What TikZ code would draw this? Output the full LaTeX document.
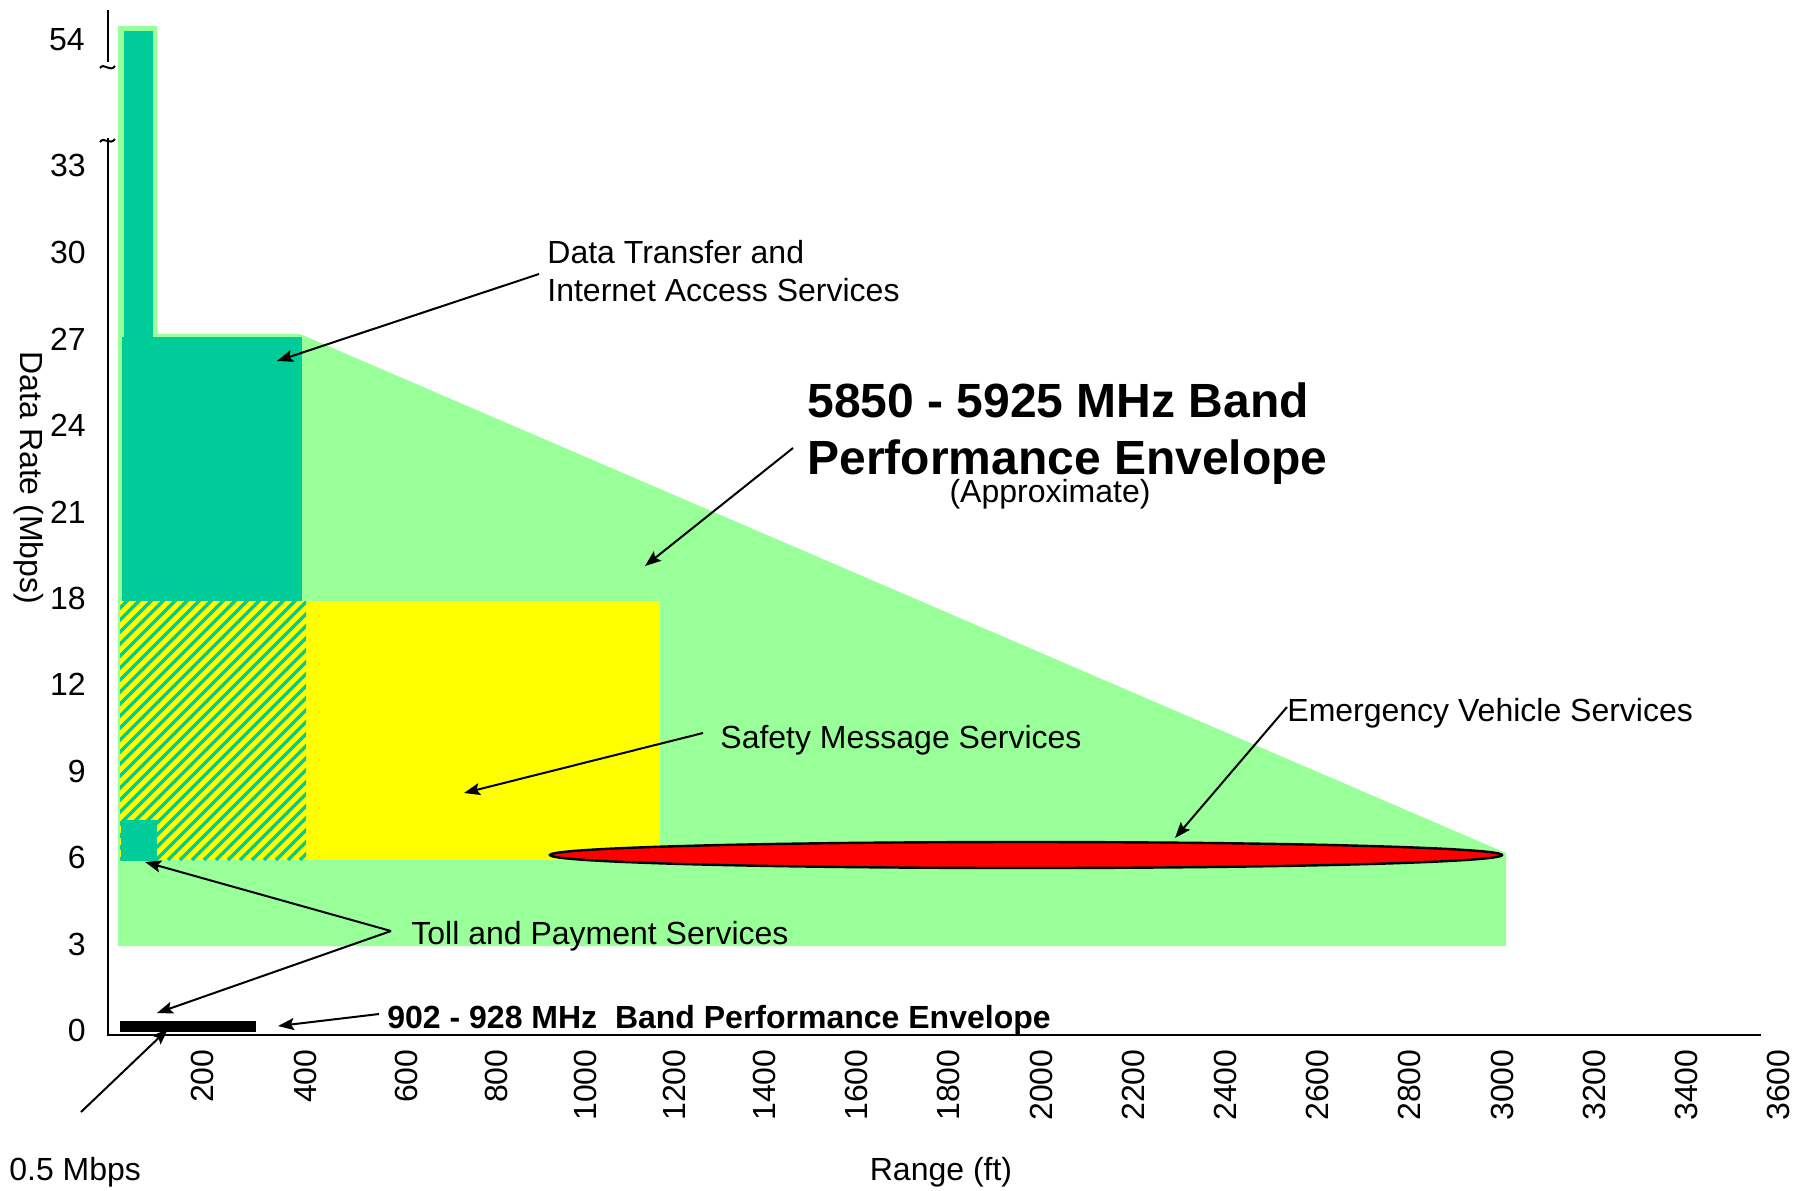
\documentclass[tikz,border=0pt]{standalone}
\usepackage{fontspec}
\setmainfont{Liberation Sans}
\usetikzlibrary{arrows.meta,shapes.geometric}
\definecolor{envgreen}{HTML}{99FF99}
\definecolor{dsrcteal}{HTML}{00CC99}
\definecolor{safeyellow}{HTML}{FFFF00}
\definecolor{evred}{HTML}{FF0000}
\begin{document}
\begin{tikzpicture}[x=0.5pt,y=-0.5pt,
  lbl/.style={font=\fontsize{16}{19}\selectfont, inner sep=0pt, align=left},
  boldlbl/.style={font=\fontsize{16}{19}\selectfont\bfseries, inner sep=0pt},
  bigtitle/.style={font=\fontsize{24}{28.5}\selectfont\bfseries, inner sep=0pt, align=left},
  ytick/.style={font=\fontsize{16}{19}\selectfont, inner sep=0pt, anchor=east},
  xtick/.style={font=\fontsize{16}{19}\selectfont, inner sep=0pt, anchor=east, rotate=90},
  ptr/.style={-{Stealth[length=8pt,width=6pt,inset=1.5pt]}, line width=1pt},
  axisline/.style={line width=1.3pt}]
\useasboundingbox (0,0) rectangle (1807,1190);

% 5.9 GHz envelope
\fill[envgreen] (118,26) -- (157,26) -- (157,334) -- (300,334) -- (1506,853)
  -- (1506,946) -- (118,946) -- cycle;
% data transfer region
\fill[dsrcteal] (124,31) rectangle (153,340);
\fill[dsrcteal] (122,337) rectangle (302,601);
% safety region
\fill[safeyellow] (306,601) rectangle (660,860);
% hatched overlap
\begin{scope}
  \clip (120,601) rectangle (306,860);
  \fill[safeyellow] (120,601) rectangle (306,860);
  \foreach \i in {-25,...,20}
    \draw[dsrcteal, line width=1.7pt] (120+\i*12,860) -- ++(270,-270);
\end{scope}
% toll square
\fill[dsrcteal] (121,820) rectangle (157,861);
% emergency ellipse
\node (ev) [draw=black, line width=1.2pt, fill=evred, ellipse, minimum width=476pt,
  minimum height=13pt, inner sep=0pt] at (1026,855) {};
% 902 MHz bar
\fill[black] (120,1021) rectangle (256,1032);

% axes
\draw[axisline] (108,10) -- (108,62);
\draw[line width=1pt] (100,68) .. controls (104,62) and (110,73) .. (115,66);
\draw[axisline] (108,138) -- (108,1035) -- (1761,1035);
\draw[line width=1pt] (100,142) .. controls (104,136) and (110,146) .. (115,139);

% y ticks
\node[ytick] (y54) at (85,40) {54};
\node[ytick] (y33) at (86,165) {33};
\node[ytick] (y30) at (86,252) {30};
\node[ytick] (y27) at (86,339) {27};
\node[ytick] (y24) at (86,425) {24};
\node[ytick] (y21) at (86,512) {21};
\node[ytick] (y18) at (86,598) {18};
\node[ytick] (y12) at (86,684) {12};
\node[ytick] (y9) at (86,771) {9};
\node[ytick] (y6) at (86,857) {6};
\node[ytick] (y3) at (86,944) {3};
\node[ytick] (y0) at (86,1030) {0};

% x ticks
\node[xtick] (x200) at (202,1049) {200};
\node[xtick] (x400) at (305,1049) {400};
\node[xtick] (x600) at (406,1049) {600};
\node[xtick] (x800) at (496,1049) {800};
\node[xtick] (x1000) at (585,1049) {1000};
\node[xtick] (x1200) at (674,1049) {1200};
\node[xtick] (x1400) at (764,1049) {1400};
\node[xtick] (x1600) at (856,1049) {1600};
\node[xtick] (x1800) at (948,1049) {1800};
\node[xtick] (x2000) at (1041,1049) {2000};
\node[xtick] (x2200) at (1133,1049) {2200};
\node[xtick] (x2400) at (1225,1049) {2400};
\node[xtick] (x2600) at (1317,1049) {2600};
\node[xtick] (x2800) at (1409,1049) {2800};
\node[xtick] (x3000) at (1502,1049) {3000};
\node[xtick] (x3200) at (1594,1049) {3200};
\node[xtick] (x3400) at (1686,1049) {3400};
\node[xtick] (x3600) at (1778,1049) {3600};

% axis titles
\node[lbl, rotate=-90] (ytitle) at (29,478) {Data Rate (Mbps)};
\node[lbl] (xtitle) at (941,1172) {Range (ft)};

% labels
\node[lbl, anchor=north west] (dt) at (547,240) {Data Transfer and\\Internet Access Services};
\node[bigtitle, anchor=north west] (title) at (807,382) {5850 - 5925 MHz Band\\Performance Envelope};
\node[lbl] (approx) at (1050,494) {(Approximate)};
\node[lbl, anchor=west] (safe) at (720,740) {Safety Message Services};
\node[lbl, anchor=west] (emerg) at (1287,713) {Emergency Vehicle Services};
\node[lbl, anchor=west] (toll) at (411,936) {Toll and Payment Services};
\node[boldlbl, anchor=west] (band902) at (387,1020) {902 - 928 MHz\ \ Band Performance Envelope};
\node[lbl, anchor=west] (half) at (9,1172) {0.5 Mbps};

% arrow targets / sources
\coordinate (dtS) at (539,274);
\coordinate (dtT) at (277,361);
\coordinate (tiS) at (793,448);
\coordinate (tiT) at (645,566);
\coordinate (saS) at (703,733);
\coordinate (saT) at (464,793);
\coordinate (evS) at (1287,707);
\coordinate (evT) at (1175,838);
\coordinate (toJ) at (391,931);
\coordinate (toA) at (145,862);
\coordinate (toB) at (157,1013);
\coordinate (bnS) at (379,1014);
\coordinate (bnT) at (278,1026);
\coordinate (hfS) at (81,1112);
\coordinate (hfT) at (168,1029);

\draw[ptr] (dtS) -- (dtT);
\draw[ptr] (tiS) -- (tiT);
\draw[ptr] (saS) -- (saT);
\draw[ptr] (evS) -- (evT);
\draw[ptr] (toJ) -- (toA);
\draw[ptr] (toJ) -- (toB);
\draw[ptr] (bnS) -- (bnT);
\draw[ptr] (hfS) -- (hfT);
\end{tikzpicture}
\end{document}
